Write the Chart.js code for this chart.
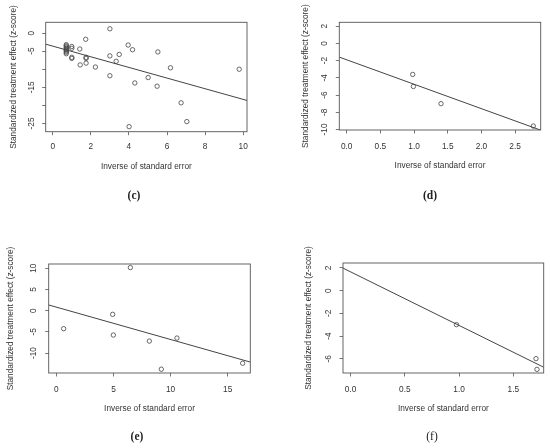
<!DOCTYPE html>
<html>
<head>
<meta charset="utf-8">
<script src="https://cdn.jsdelivr.net/npm/chart.js@4.4.1/dist/chart.umd.min.js"></script>
<style>
  html, body { margin: 0; padding: 0; background: #fff; }
  #wrap { position: relative; width: 550px; height: 448px; }
  .panel { position: absolute; width: 275px; height: 224px; }
  .cap { position: absolute; font-family: "Liberation Serif", serif; font-size: 11.5px; color: #222;
         transform: translate(-50%, -50%); white-space: nowrap; }
</style>
</head>
<body>
<div id="wrap">
  <div class="panel" style="left:0;top:0"><canvas id="pc" width="275" height="224"></canvas></div>
  <div class="panel" style="left:275px;top:0"><canvas id="pd" width="275" height="224"></canvas></div>
  <div class="panel" style="left:0;top:224px"><canvas id="pe" width="275" height="224"></canvas></div>
  <div class="panel" style="left:275px;top:224px"><canvas id="pf" width="275" height="224"></canvas></div>
  <div class="cap" style="left:134px;top:195px;font-weight:bold">(c)</div>
  <div class="cap" style="left:430px;top:195px;font-weight:bold">(d)</div>
  <div class="cap" style="left:137px;top:436px;font-weight:bold">(e)</div>
  <div class="cap" style="left:432px;top:436px">(f)</div>
</div>
<script>
// panel (c)
var cX = [0.71, 0.71, 0.71, 0.71, 0.71, 0.71, 0.71, 0.71, 0.71, 1.0, 1.0, 1.0, 1.0, 1.42, 1.44,
          1.73, 1.75, 1.75, 1.75, 2.24, 3.0, 3.0, 3.0, 3.33, 3.49, 3.96, 4.01, 4.19, 4.31, 5.01,
          5.52, 5.48, 6.18, 6.74, 7.04, 9.79];
var cY = [-3.2, -3.5, -3.8, -4.1, -4.4, -4.7, -5.0, -5.3, -5.7, -3.7, -4.2, -6.7, -7.0, -4.4, -8.8,
          -1.7, -6.7, -7.0, -8.3, -9.4, 1.2, -6.3, -11.8, -7.8, -5.9, -3.3, -25.9, -4.6, -13.8, -12.3,
          -5.2, -14.7, -9.6, -19.3, -24.5, -10.0];
var cFit = [-3.6, -1.475];           // intercept, slope
var cXTicks = [0, 2, 4, 6, 8, 10];
var cXLabels = ['0', '2', '4', '6', '8', '10'];
var cYTicks = [0, -5, -10, -15, -20, -25];
var cYLabels = ['0', '-5', '', '-15', '', '-25'];

// panel (d)
var dX = [0.98, 0.99, 1.40, 2.77];
var dY = [-3.6, -5.0, -7.0, -9.6];
var dFit = [-1.9, -2.84];
var dXTicks = [0, 0.5, 1, 1.5, 2, 2.5];
var dXLabels = ['0.0', '0.5', '1.0', '1.5', '2.0', '2.5'];
var dYTicks = [2, 0, -2, -4, -6, -8, -10];
var dYLabels = ['2', '0', '-2', '-4', '-6', '-8', '-10'];

// panel (e)
var eX = [0.64, 4.93, 4.99, 6.48, 8.14, 9.19, 10.56, 16.31];
var eY = [-4.25, -0.87, -5.75, 10.16, -7.17, -13.8, -6.46, -12.4];
var eFit = [0.83, -0.763];
var eXTicks = [0, 5, 10, 15];
var eXLabels = ['0', '5', '10', '15'];
var eYTicks = [10, 5, 0, -5, -10];
var eYLabels = ['10', '5', '0', '-5', '-10'];

// panel (f)
var fX = [0.976, 1.709, 1.718];
var fY = [-2.99, -5.98, -6.92];
var fFit = [1.65, -4.71];
var fXTicks = [0, 0.5, 1, 1.5];
var fXLabels = ['0.0', '0.5', '1.0', '1.5'];
var fYTicks = [2, 0, -2, -4, -6];
var fYLabels = ['2', '0', '-2', '-4', '-6'];

var XTITLE = 'Inverse of standard error';
var YTITLE = 'Standardized treatment effect (z-score)';

var FONT = { family: '"Liberation Sans", Arial, sans-serif', size: 8.3 };
var INK = '#333';

// box round the plot region, like R's box()
var boxPlugin = {
  id: 'box',
  afterDraw: function(chart) {
    var a = chart.chartArea, ctx = chart.ctx;
    ctx.save();
    ctx.strokeStyle = '#555';
    ctx.lineWidth = 0.9;
    ctx.strokeRect(a.left, a.top, a.right - a.left, a.bottom - a.top);
    ctx.restore();
  }
};

function makePanel(id, xs, ys, fit, xlim, ylim, xt, xl, yt, yl, lay) {
  var pts = xs.map(function(x, i) { return { x: x, y: ys[i] }; });
  var line = [xlim[0], xlim[1]].map(function(x) { return { x: x, y: fit[0] + fit[1] * x }; });

  new Chart(document.getElementById(id), {
    type: 'scatter',
    data: {
      datasets: [
        {
          data: pts,
          pointStyle: 'circle',
          pointRadius: 2.2,
          pointBorderWidth: 0.8,
          borderColor: '#444',
          backgroundColor: 'rgba(0,0,0,0)'
        },
        {
          type: 'line',
          data: line,
          borderColor: '#444',
          borderWidth: 1,
          pointRadius: 0,
          fill: false
        }
      ]
    },
    options: {
      responsive: false,
      animation: false,
      events: [],
      layout: { padding: { left: 0, top: lay.T, right: 275 - lay.R, bottom: 0 } },
      plugins: { legend: { display: false }, tooltip: { enabled: false } },
      scales: {
        x: {
          type: 'linear',
          min: xlim[0], max: xlim[1],
          border: { display: false },
          grid: { drawOnChartArea: false, drawTicks: true, tickLength: 3.5, color: '#555', lineWidth: 0.8 },
          afterBuildTicks: function(s) { s.ticks = xt.map(function(v) { return { value: v }; }); },
          afterFit: function(s) { s.height = 224 - lay.B; },
          ticks: {
            font: FONT, color: INK, padding: lay.xpad, maxRotation: 0, autoSkip: false,
            callback: function(v, i) { return xl[i]; }
          },
          title: { display: true, text: XTITLE, font: FONT, color: INK,
                   padding: { top: 0, bottom: 224 - lay.xt - 5 } }
        },
        y: {
          type: 'linear',
          min: ylim[0], max: ylim[1],
          border: { display: false },
          grid: { drawOnChartArea: false, drawTicks: true, tickLength: 3.5, color: '#555', lineWidth: 0.8 },
          afterBuildTicks: function(s) { s.ticks = yt.map(function(v) { return { value: v }; }); },
          afterFit: function(s) { s.width = lay.L; },
          ticks: {
            font: FONT, color: INK, padding: lay.ypad, minRotation: 90, maxRotation: 90,
            crossAlign: 'center', autoSkip: false,
            callback: function(v, i) { return yl[i]; }
          },
          title: { display: true, text: YTITLE, font: FONT, color: INK,
                   padding: { top: lay.yt - 5, bottom: 0 } }
        }
      }
    },
    plugins: [boxPlugin]
  });
}

makePanel('pc', cX, cY, cFit, [-0.37, 10.2], [-27.3, 3.0], cXTicks, cXLabels, cYTicks, cYLabels,
  { L: 45.7, R: 247, T: 22.3, B: 131.7, xpad: 6.5, ypad: 4.5, xt: 166.7, yt: 14 });
makePanel('pd', dX, dY, dFit, [-0.11, 2.88], [-10.06, 2.46], dXTicks, dXLabels, dYTicks, dYLabels,
  { L: 64.3, R: 265.7, T: 22.3, B: 130, xpad: 8.2, ypad: 4.8, xt: 165.7, yt: 30.5 });
makePanel('pe', eX, eY, eFit, [-0.67, 16.98], [-14.7, 11.0], eXTicks, eXLabels, eYTicks, eYLabels,
  { L: 48.7, R: 250.3, T: 40, B: 149, xpad: 8.2, ypad: 5.9, xt: 184.3, yt: 10.5 });
makePanel('pf', fX, fY, fFit, [-0.07, 1.78], [-7.24, 2.43], fXTicks, fXLabels, fYTicks, fYLabels,
  { L: 68, R: 268.7, T: 39, B: 149, xpad: 8.2, ypad: 7.5, xt: 184.3, yt: 34 });
</script>
</body>
</html>
